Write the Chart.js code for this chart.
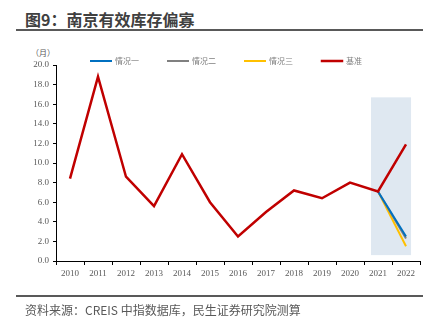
<!DOCTYPE html>
<html>
<head>
<meta charset="utf-8">
<script src="https://cdn.jsdelivr.net/npm/chart.js@4.4.0/dist/chart.umd.min.js"></script>
<style>
  html, body { margin: 0; padding: 0; background: #fff; }
  body { width: 435px; height: 328px; position: relative; overflow: hidden; font-family: "Noto Sans CJK SC", sans-serif; }
  #title { position: absolute; left: 25px; top: 8px; font-size: 16px; font-weight: bold; color: #404040; line-height: 22px; }
  .rule { position: absolute; left: 16px; width: 407px; height: 2px; background: #595959; }
  #unit { position: absolute; left: 31px; top: 47px; font-size: 8px; color: #595959; line-height: 12px; }
  #source { position: absolute; left: 25px; top: 301px; font-size: 12px; color: #595959; line-height: 18px; }
  canvas { position: absolute; left: 0; top: 0; }
</style>
</head>
<body>
<div id="title">图9：南京有效库存偏寡</div>
<div class="rule" style="top:29px"></div>
<div id="unit">（月）</div>
<canvas id="myChart" width="435" height="328"></canvas>
<div class="rule" style="top:295px"></div>
<div id="source">资料来源：CREIS 中指数据库，民生证券研究院测算</div>
<script>
// 年份
var years = ['2010','2011','2012','2013','2014','2015','2016','2017','2018','2019','2020','2021','2022'];
// 基准
var baseline = [8.4, 18.8, 8.6, 5.6, 10.9, 6.0, 2.5, 5.0, 7.2, 6.4, 8.0, 7.1, 11.9];
// 情况一/二/三 (only 2021-2022)
var case1 = [null, null, null, null, null, null, null, null, null, null, null, 7.1, 2.5];
var case2 = [null, null, null, null, null, null, null, null, null, null, null, 7.1, 2.3];
var case3 = [null, null, null, null, null, null, null, null, null, null, null, 7.1, 1.5];
var yTicks = [0, 20, 2];
// forecast band (2021-2022), value range
var shadeYears = ['2021', '2022'];
var shadeRange = [0.6, 16.7];

var shadePlugin = {
    id: 'shade',
    beforeDatasetsDraw(chart) {
        var x = chart.scales.x, y = chart.scales.y, ctx = chart.ctx;
        var step = x.getPixelForValue(1) - x.getPixelForValue(0);
        var left = x.getPixelForValue(years.indexOf(shadeYears[0])) - step * 0.25;
        var right = x.getPixelForValue(years.indexOf(shadeYears[1])) + step * 0.18;
        var top = y.getPixelForValue(shadeRange[1]);
        var bottom = y.getPixelForValue(shadeRange[0]);
        ctx.save();
        ctx.fillStyle = '#dfe8f1';
        ctx.fillRect(left, top, right - left, bottom - top);
        ctx.restore();
    }
};

var ctx = document.getElementById('myChart');
var myChart = new Chart(ctx, {
    type: 'line',
    data: {
        labels: years,
        datasets: [
            { label: '情况一', data: case1, borderColor: '#0070c0', backgroundColor: '#0070c0', borderWidth: 2 },
            { label: '情况二', data: case2, borderColor: '#808080', backgroundColor: '#808080', borderWidth: 2 },
            { label: '情况三', data: case3, borderColor: '#ffc000', backgroundColor: '#ffc000', borderWidth: 2 },
            { label: '基准', data: baseline, borderColor: '#c00000', backgroundColor: '#c00000', borderWidth: 2.5, order: -1 }
        ]
    },
    options: {
        responsive: false,
        animation: false,
        elements: { point: { radius: 0 }, line: { tension: 0 } },
        layout: { padding: { left: 33, right: 15, top: 28, bottom: 47 } },
        plugins: {
            tooltip: { enabled: false },
            legend: {
                position: 'top',
                maxHeight: 37,
                labels: {
                    boxWidth: 20,
                    boxHeight: 0.01,
                    padding: 29,
                    color: '#808080',
                    font: { family: 'Noto Sans CJK SC', size: 8 },
                    sort: function (a, b) { return a.datasetIndex - b.datasetIndex; }
                }
            }
        },
        scales: {
            x: {
                offset: true,
                grid: { offset: true, drawOnChartArea: false, drawTicks: true, tickLength: 4, color: '#000' },
                border: { color: '#000', width: 1 },
                ticks: { color: '#595959', padding: 3, maxRotation: 0, font: { family: 'Liberation Serif', size: 9 } },
                afterFit: function (scale) { scale.height = 20; }
            },
            y: {
                min: yTicks[0],
                max: yTicks[1],
                grid: { drawOnChartArea: false, drawTicks: true, tickLength: 3, color: '#000' },
                border: { color: '#000', width: 1 },
                ticks: {
                    stepSize: yTicks[2],
                    color: '#595959',
                    padding: 4,
                    font: { family: 'Liberation Serif', size: 9 },
                    callback: function (v) { return v.toFixed(1); }
                },
                afterFit: function (scale) { scale.width = 23; }
            }
        }
    },
    plugins: [shadePlugin]
});
</script>
</body>
</html>
